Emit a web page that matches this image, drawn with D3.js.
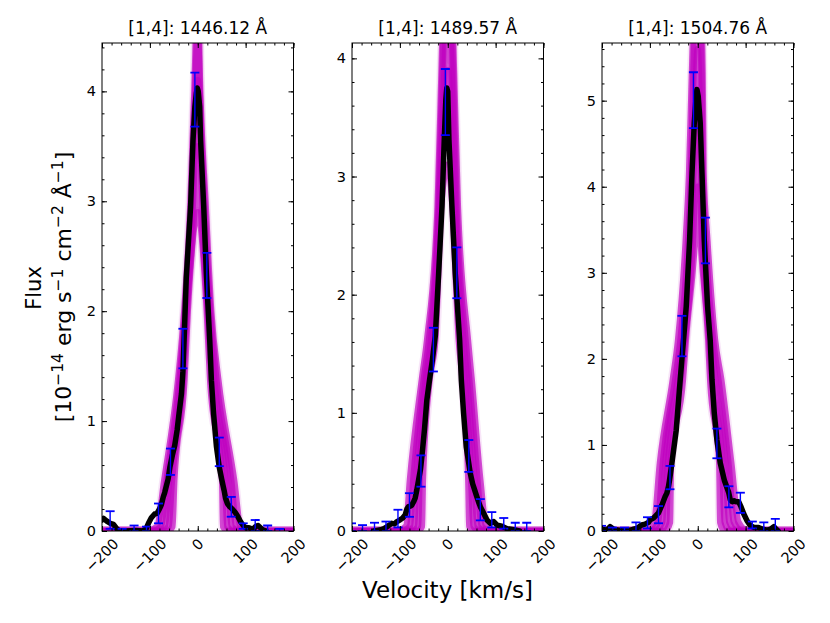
<!DOCTYPE html>
<html><head><meta charset="utf-8">
<script src="https://cdn.jsdelivr.net/npm/d3@7"></script>
<style>body{margin:0;background:#fff}svg{display:block}text{font-family:"DejaVu Sans",sans-serif;fill:#000}</style>
</head><body><svg id="c" width="830" height="623"></svg>
<script>
// ---------------- data ----------------
const titles = ["[1,4]: 1446.12 Å", "[1,4]: 1489.57 Å", "[1,4]: 1504.76 Å"];
const yMax = [4.44, 4.13, 5.67];
const yTicks1 = [0, 1, 2, 3, 4];
const yTicks2 = [0, 1, 2, 3, 4];
const yTicks3 = [0, 1, 2, 3, 4, 5];
const xTicks = [-200, -100, 0, 100, 200];
const xTickLabels = ["\u2212200", "\u2212100", "0", "100", "200"];

// model profiles: velocity (km/s) and flux points of each model curve
const m1A_v = [-200,-105,-85,-70,-41,-28,-15,-7,0,5,16,28,43,76,89,108,200];
const m1A_f = [0,0,0.04,0.46,1.37,2.0,3.0,4.0,4.9,4.0,3.0,2.0,1.37,0.46,0.04,0,0];
const m1B_v = [-200,-94,-77,-65,-38,-26,-13,-5,0,4,13.5,26,39,70,80,96,200];
const m1B_f = [0,0,0.04,0.46,1.37,2.0,3.0,4.0,4.6,4.0,3.0,2.0,1.37,0.46,0.04,0,0];
const m1C_v = [-200,-83,-69,-60,-35,-24.5,-10,0,10,23.5,34.5,63.5,71,85,200];
const m1C_f = [0,0,0.04,0.46,1.37,2.0,3.0,4.1,3.0,2.0,1.37,0.46,0.04,0,0];
const m1D_v = [-200,-73,-61,-54,-31,-23,-6,0,6,21,30,57,62,73,200];
const m1D_f = [0,0,0.04,0.46,1.37,2.0,3.0,3.5,3.0,2.0,1.37,0.46,0.04,0,0];
const m1E_v = [-200,-62,-53,-49,-28,-21,0,19,26,51,53,62,200];
const m1E_f = [0,0,0.04,0.46,1.37,2.0,2.9,2.0,1.37,0.46,0.04,0,0];

const m2A_v = [-200,-105,-87,-79,-54,-43,-21,-13,0,13,21,42,50,68,80,98,200];
const m2A_f = [0,0,0.04,0.43,1.28,1.62,2.75,3.88,5.6,3.88,2.75,1.62,1.28,0.43,0.04,0,0];
const m2B_v = [-200,-94,-79,-72,-50,-39,-19,-11,0,11,18,37,45,62,71,87,200];
const m2B_f = [0,0,0.04,0.43,1.28,1.62,2.75,3.88,5.2,3.88,2.75,1.62,1.28,0.43,0.04,0,0];
const m2C_v = [-200,-83.5,-70.5,-65.5,-46,-34.5,-17.5,-7,0,8,15.5,32.5,40.5,55.5,62.5,76,200];
const m2C_f = [0,0,0.04,0.43,1.28,1.62,2.75,3.88,4.6,3.88,2.75,1.62,1.28,0.43,0.04,0,0];
const m2D_v = [-200,-73,-62,-59,-42,-30,-16,0,13,28,36,49,54,65,200];
const m2D_f = [0,0,0.04,0.43,1.28,1.62,2.75,3.9,2.75,1.62,1.28,0.43,0.04,0,0];
const m2E_v = [-200,-62,-54,-52,-38,-26,-14,0,10,23,31,43,45,54,200];
const m2E_f = [0,0,0.04,0.43,1.28,1.62,2.75,3.1,2.75,1.62,1.28,0.43,0.04,0,0];

const m3A_v = [-200,-110,-91,-79,-52,-41,-25,-18,-12,0,10,12,20,36,49,70,85,105,200];
const m3A_f = [0,0,0.1,0.79,1.76,2.22,3.38,4.16,5.32,7.0,5.32,4.16,3.38,2.22,1.76,0.79,0.1,0,0];
const m3B_v = [-200,-99.5,-83,-73,-47,-36,-20,-14,-9,0,8,10,16,32,43,64,75.5,93,200];
const m3B_f = [0,0,0.1,0.79,1.76,2.22,3.38,4.16,5.32,6.3,5.32,4.16,3.38,2.22,1.76,0.79,0.1,0,0];
const m3C_v = [-200,-89,-74.5,-67.5,-41.5,-31,-15,-9,0,7,12.5,28.5,36.5,57.5,66,80.5,200];
const m3C_f = [0,0,0.1,0.79,1.76,2.22,3.38,4.16,5.6,4.16,3.38,2.22,1.76,0.79,0.1,0,0];
const m3D_v = [-200,-78.5,-66,-62,-36,-27,-10,0,9,24,30,51,56.5,68,200];
const m3D_f = [0,0,0.1,0.79,1.76,2.22,3.38,4.8,3.38,2.22,1.76,0.79,0.1,0,0];
const m3E_v = [-200,-68,-58,-56,-31,-25,-6,0,6,22,26,45,47,56,200];
const m3E_f = [0,0,0.1,0.79,1.76,2.22,3.38,4.0,3.38,2.22,1.76,0.79,0.1,0,0];

// observed profiles
const obsV1 = [-200,-197,-190,-183,-176,-170,-165,-150,-130,-115,-108,-103,-97,-90,-85,-80,-76,-72,-69,-65,-62,-58,-53,-48,-43,-39,-34,-31,-28,-24,-15,-10,-6,-3,-1,1,4,6,12.5,18,25,28.5,33,39,45,50,55,58,62,67,72,78,84,90,95,100,107,115,121,126,131,136,143];
const obsF1 = [0.10,0.115,0.09,0.07,0.06,0.025,0.005,0.0,0.005,0.0,0.02,0.07,0.12,0.155,0.16,0.2,0.24,0.31,0.35,0.42,0.47,0.585,0.69,0.78,0.92,1.07,1.25,1.45,1.8,2.3,2.95,3.55,3.86,3.98,4.03,4.0,3.86,3.55,2.95,2.34,1.74,1.37,1.07,0.77,0.58,0.47,0.37,0.3,0.25,0.22,0.2,0.17,0.13,0.08,0.05,0.03,0.03,0.015,0.04,0.05,0.03,0.01,0.0];
const obsV2 = [-155,-148,-140,-133,-127,-122,-117,-111,-106,-99.5,-94,-89,-85,-82,-78,-75,-71,-68,-64.5,-61,-57,-54,-48.6,-43.6,-38,-32,-26,-19,-12,-7.3,-4,-2,0,2.5,8.7,15.7,24.8,28.3,33,38.7,47,52,56,60,64,68,75,82,89,96,103,113,124,138,150];
const obsF2 = [0.0,0.005,0.01,0.02,0.036,0.05,0.065,0.06,0.08,0.095,0.11,0.136,0.19,0.206,0.21,0.22,0.25,0.28,0.35,0.43,0.52,0.63,0.86,1.11,1.28,1.45,1.65,2.18,2.75,3.31,3.65,3.75,3.72,3.31,2.75,2.18,1.62,1.28,1.0,0.71,0.49,0.4,0.35,0.3,0.25,0.206,0.15,0.093,0.065,0.08,0.05,0.04,0.02,0.01,0.0];
const obsV3 = [-200,-190,-183,-176,-165,-150,-141,-135,-127,-120,-117,-110,-103,-99.5,-92.5,-89,-82,-75,-68,-64.5,-61,-59,-54,-45,-36.6,-29.7,-24,-17,-12,-7.3,-4,-1.7,1,5.2,8.8,13.6,20.5,26,29.7,34.5,40,47,55.5,64.5,68,72,76,80,85.5,90.5,96,103,110,118,127,136,145,152,159,164,168];
const obsF3 = [0.02,0.01,0.05,0.02,0.01,0.01,0.01,0.02,0.03,0.06,0.07,0.08,0.1,0.13,0.15,0.17,0.21,0.3,0.4,0.44,0.52,0.59,0.79,1.17,1.76,2.22,2.61,3.38,4.16,4.74,5.0,5.13,5.05,4.74,4.16,3.38,2.61,2.22,1.76,1.37,1.06,0.79,0.59,0.45,0.36,0.34,0.35,0.34,0.34,0.28,0.2,0.12,0.06,0.04,0.04,0.02,0.01,0.02,0.05,0.02,0.0];

// error bars (binned data)
const ebV1 = [-183,-158,-133,-107,-82,-57,-31,-6,19,45,70,95,120,146,171];
const ebLo1 = [0.02,-0.02,0.0,0.0,0.07,0.51,1.48,3.68,2.12,0.59,0.13,0.02,0.0,0.0,-0.02];
const ebHi1 = [0.18,0.02,0.05,0.04,0.25,0.75,1.84,4.17,2.53,0.85,0.31,0.07,0.1,0.05,0.02];
const ebV2 = [-201,-178,-153,-129,-104,-80,-56,-30,-5,19,44,68,92,117,141,165];
const ebLo2 = [0.0,0.0,0.0,0.0,0.03,0.12,0.375,1.35,3.35,1.97,0.5,0.09,0.03,0.02,0.0,0.0];
const ebHi2 = [0.065,0.05,0.07,0.08,0.18,0.32,0.64,1.72,3.91,2.40,0.77,0.27,0.16,0.11,0.07,0.07];
const ebV3 = [-201,-178,-153,-129,-105,-82,-58,-33,-9,16,40,65,89,114,138,162];
const ebLo3 = [0.0,0.0,0.0,0.0,0.03,0.09,0.485,2.03,4.68,3.11,0.845,0.275,0.21,0.03,0.0,0.0];
const ebHi3 = [0.06,0.04,0.04,0.10,0.16,0.29,0.756,2.50,5.33,3.64,1.19,0.52,0.445,0.11,0.10,0.14];

// ---------------- drawing ----------------
const panels = [
  {models:[[m1A_v,m1A_f],[m1B_v,m1B_f],[m1C_v,m1C_f],[m1D_v,m1D_f],[m1E_v,m1E_f]], ov:obsV1, of:obsF1, ev:ebV1, lo:ebLo1, hi:ebHi1, yt:yTicks1},
  {models:[[m2A_v,m2A_f],[m2B_v,m2B_f],[m2C_v,m2C_f],[m2D_v,m2D_f],[m2E_v,m2E_f]], ov:obsV2, of:obsF2, ev:ebV2, lo:ebLo2, hi:ebHi2, yt:yTicks2},
  {models:[[m3A_v,m3A_f],[m3B_v,m3B_f],[m3C_v,m3C_f],[m3D_v,m3D_f],[m3E_v,m3E_f]], ov:obsV3, of:obsF3, ev:ebV3, lo:ebLo3, hi:ebHi3, yt:yTicks3}
];
const svg = d3.select("#c");
svg.append("rect").attr("width",830).attr("height",623).attr("fill","#fff");
const defs = svg.append("defs");
const left0 = [102, 352, 602], pw = 191.5, plotTop = 43, plotBottom = 531;
const MAG = "#bf00bf";
const tickFs = 14.5;

panels.forEach((p, i) => {
  const x0 = left0[i];
  const x = d3.scaleLinear().domain([-200, 200]).range([x0, x0 + pw]);
  const y = d3.scaleLinear().domain([0, yMax[i]]).range([plotBottom, plotTop]);
  defs.append("clipPath").attr("id", "clip" + i).append("rect")
    .attr("x", x0).attr("y", plotTop).attr("width", pw).attr("height", plotBottom - plotTop);
  const g = svg.append("g");
  const plot = g.append("g").attr("clip-path", `url(#clip${i})`);
  const mline = d3.line().x(d => x(d[0])).y(d => y(d[1])).curve(d3.curveMonotoneX);
  const pts = (m) => m[0].map((v, k) => [v, m[1][k]]);
  p.models.forEach(m => {
    plot.append("path").attr("d", mline(pts(m)))
      .attr("fill", "none").attr("stroke", MAG).attr("stroke-width", 10)
      .attr("stroke-opacity", 0.1).attr("stroke-linejoin", "round");
  });
  p.models.forEach(m => {
    plot.append("path").attr("d", mline(pts(m)))
      .attr("fill", "none").attr("stroke", MAG).attr("stroke-width", 6.5)
      .attr("stroke-opacity", 0.68).attr("stroke-linejoin", "round");
  });
  const oline = d3.line().x(d => x(d[0])).y(d => y(d[1]));
  plot.append("path").attr("d", oline(p.ov.map((v, k) => [v, p.of[k]])))
    .attr("fill", "none").attr("stroke", "#000").attr("stroke-width", 5.5)
    .attr("stroke-linejoin", "round").attr("stroke-linecap", "round");
  const eb = plot.append("g").attr("stroke", "#0000ff");
  p.ev.forEach((v, k) => {
    const cx = x(v), y1 = y(p.lo[k]), y2 = y(p.hi[k]);
    eb.append("line").attr("x1", cx).attr("x2", cx).attr("y1", y1).attr("y2", y2).attr("stroke-width", 1.4);
    eb.append("line").attr("x1", cx - 4.5).attr("x2", cx + 4.5).attr("y1", y1).attr("y2", y1).attr("stroke-width", 1.8);
    eb.append("line").attr("x1", cx - 4.5).attr("x2", cx + 4.5).attr("y1", y2).attr("y2", y2).attr("stroke-width", 1.8);
  });
  const xMinor = d3.range(-200, 201, 20);
  const yMinor = d3.range(0, yMax[i] + 1e-9, 0.2);
  const ax = (axis) => {
    const a = g.append("g").call(axis);
    a.select(".domain").remove();
    a.selectAll("line").attr("stroke", "#000").attr("stroke-width", 1);
    a.selectAll("text").remove();
    return a;
  };
  ax(d3.axisBottom(x).tickValues(xTicks).tickSize(-5)).attr("transform", `translate(0,${plotBottom})`);
  ax(d3.axisBottom(x).tickValues(xMinor).tickSize(-2.5)).attr("transform", `translate(0,${plotBottom})`);
  ax(d3.axisTop(x).tickValues(xTicks).tickSize(-5)).attr("transform", `translate(0,${plotTop})`);
  ax(d3.axisTop(x).tickValues(xMinor).tickSize(-2.5)).attr("transform", `translate(0,${plotTop})`);
  ax(d3.axisLeft(y).tickValues(p.yt).tickSize(-5)).attr("transform", `translate(${x0},0)`);
  ax(d3.axisLeft(y).tickValues(yMinor).tickSize(-2.5)).attr("transform", `translate(${x0},0)`);
  ax(d3.axisRight(y).tickValues(p.yt).tickSize(-5)).attr("transform", `translate(${x0 + pw},0)`);
  ax(d3.axisRight(y).tickValues(yMinor).tickSize(-2.5)).attr("transform", `translate(${x0 + pw},0)`);
  g.append("rect").attr("x", x0).attr("y", plotTop).attr("width", pw).attr("height", plotBottom - plotTop)
    .attr("fill", "none").attr("stroke", "#000").attr("stroke-width", 1);
  p.yt.forEach(t => {
    g.append("text").attr("x", x0 - 6).attr("y", y(t)).attr("text-anchor", "end")
      .attr("dominant-baseline", "central").attr("font-size", tickFs).text(String(t));
  });
  xTicks.forEach((t, k) => {
    const tx = g.append("text").attr("font-size", tickFs).attr("text-anchor", "middle")
      .attr("dominant-baseline", "central").text(xTickLabels[k]);
    const w = tx.node().getComputedTextLength();
    const H = (w + tickFs) * Math.SQRT1_2;
    const cx = x(t), cy = plotBottom + 5 + H / 2;
    tx.attr("x", cx).attr("y", cy).attr("transform", `rotate(-45,${cx},${cy})`);
  });
  g.append("text").attr("x", x0 + pw / 2).attr("y", 34).attr("text-anchor", "middle")
    .attr("font-size", 17).text(titles[i]);
});

svg.append("text").attr("x", 447.5).attr("y", 598).attr("text-anchor", "middle")
  .attr("font-size", 23).text("Velocity [km/s]");
svg.append("text").attr("transform", "translate(41,288) rotate(-90)").attr("text-anchor", "middle")
  .attr("font-size", 21).text("Flux");
const yl = svg.append("text").attr("transform", "translate(71,287) rotate(-90)")
  .attr("text-anchor", "middle").attr("font-size", 22);
const parts = [["[10",0],["\u221214",1],[" erg s",0],["\u22121",1],[" cm",0],["\u22122",1],[" Å",0],["\u22121",1],["]",0]];
let prevSup = 0;
parts.forEach(([s, sup]) => {
  const ts = yl.append("tspan").text(s);
  if (sup) { ts.attr("font-size", 15.5); }
  const dy = (sup ? -8 : 0) - (prevSup ? -8 : 0);
  if (dy !== 0) ts.attr("dy", dy);
  prevSup = sup;
});
</script></body></html>
